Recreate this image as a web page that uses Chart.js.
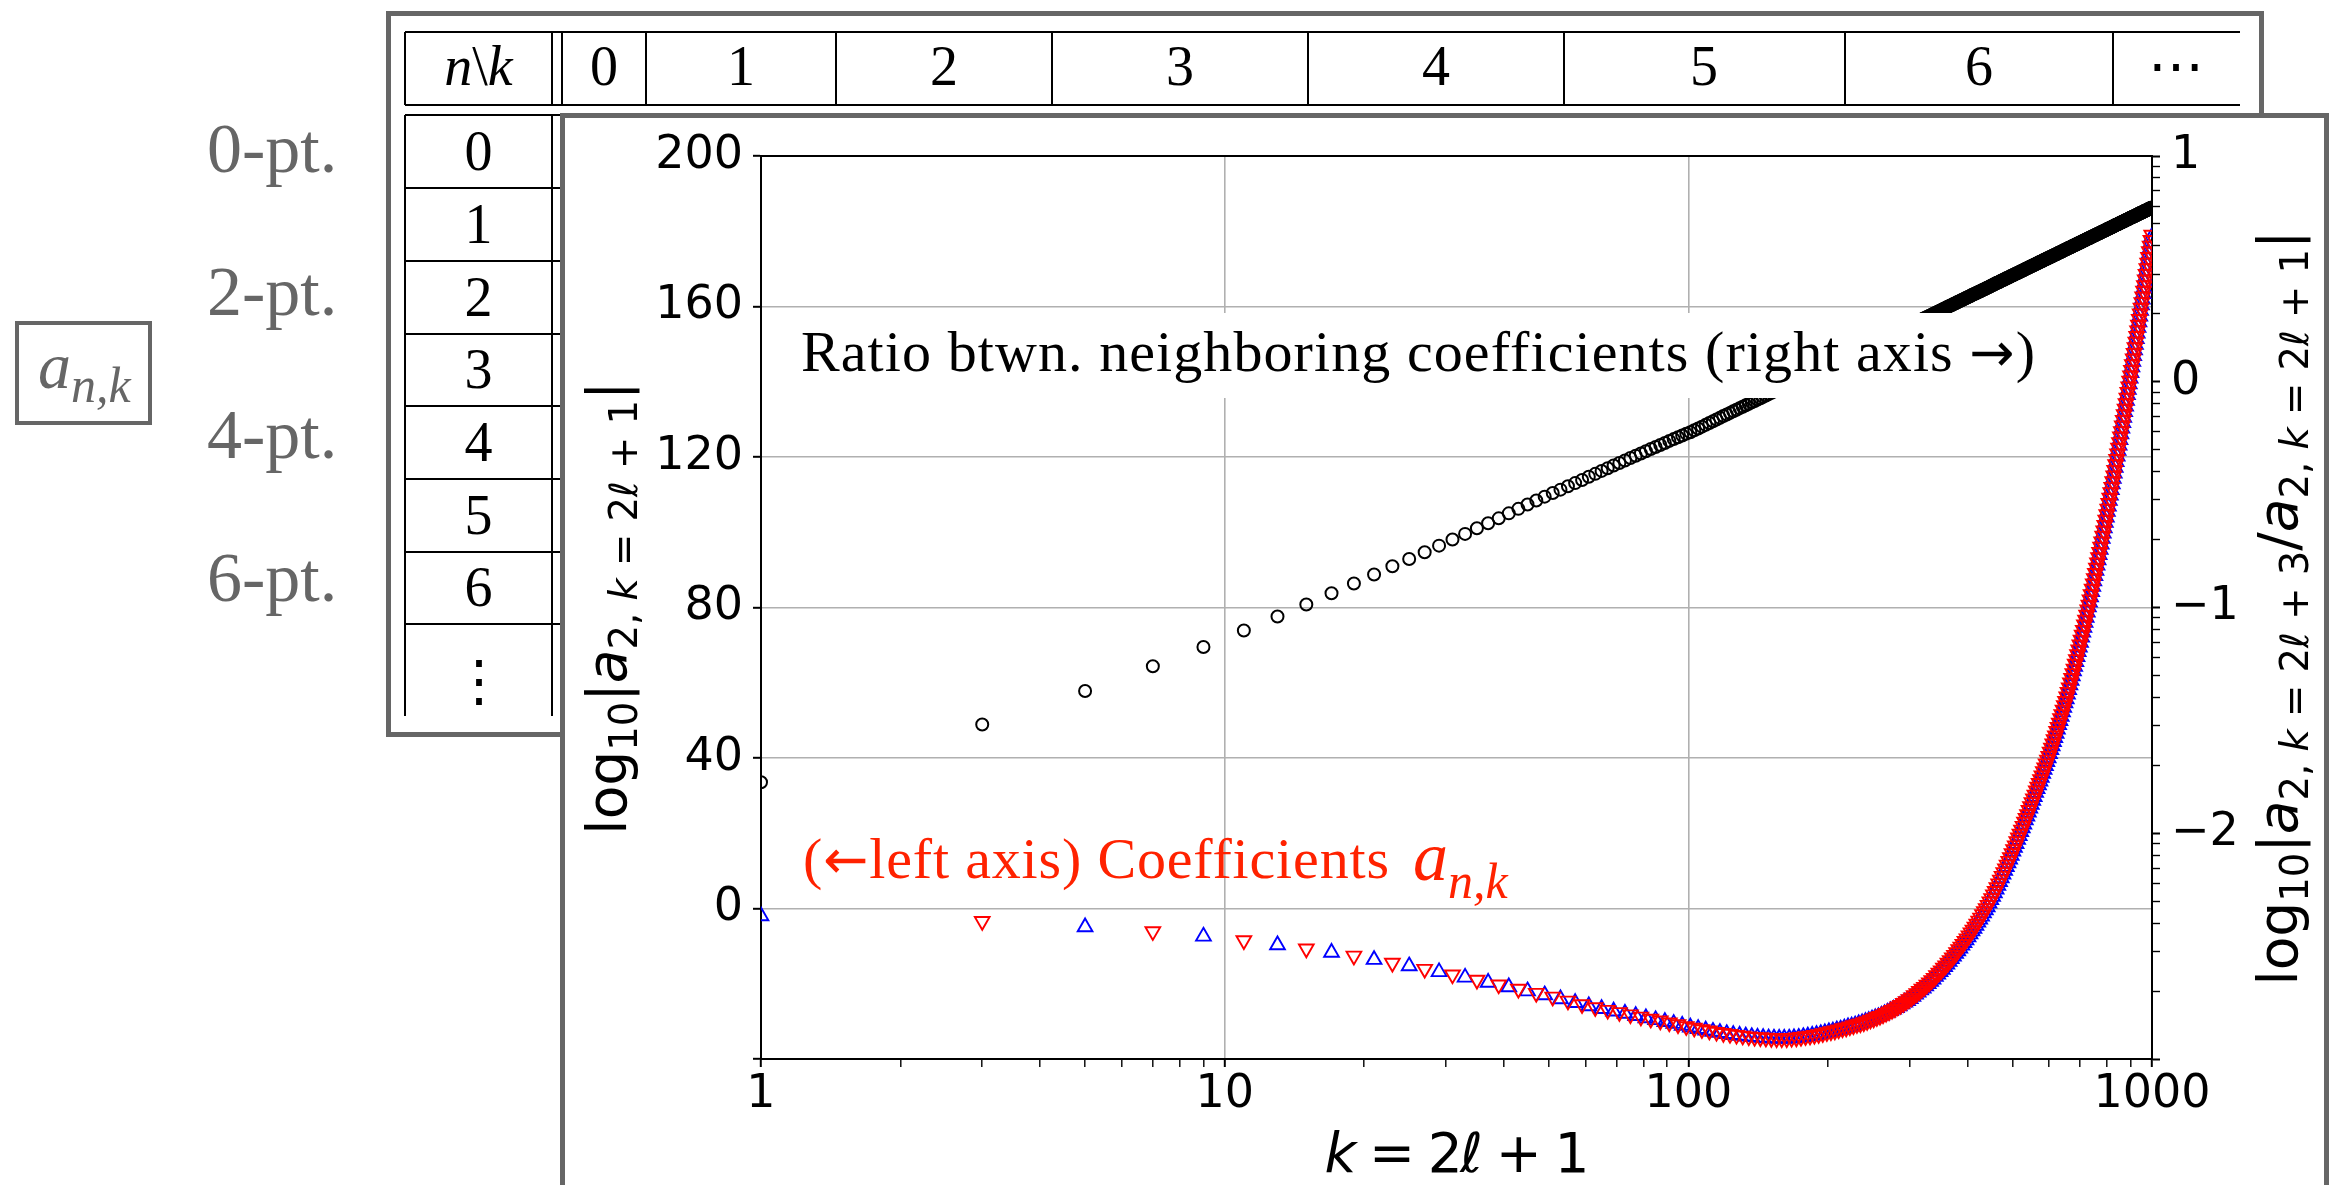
<!DOCTYPE html>
<html>
<head>
<meta charset="utf-8">
<title>a_{n,k} coefficients</title>
<script src="https://cdn.jsdelivr.net/npm/chart.js@4.4.1/dist/chart.umd.min.js"></script>
<style>
  html, body { margin: 0; padding: 0; background: #ffffff; }
  #page { position: relative; width: 2334px; height: 1185px; overflow: hidden; }
  #page > * { position: absolute; left: 0; top: 0; }
  #back { z-index: 1; }
  #chart { z-index: 2; }
  #front { z-index: 3; }
  text { font-family: "Liberation Serif", "DejaVu Serif", serif; }
  text.mpl, tspan.mpl { font-family: "DejaVu Sans", sans-serif; }
</style>
</head>
<body>
<div id="page">
  <svg id="back" width="2334" height="1185">
    <!-- left side labels -->
    <rect x="17" y="323" width="133" height="100" fill="none" stroke="#666" stroke-width="4"/>
    <text x="38" y="388" fill="#666" font-size="66" font-style="italic">a<tspan font-size="50" dy="14">n,k</tspan></text>
    <g fill="#666" font-size="70">
      <text x="207" y="172">0-pt.</text>
      <text x="207" y="315">2-pt.</text>
      <text x="207" y="458">4-pt.</text>
      <text x="207" y="601">6-pt.</text>
    </g>
    <!-- table behind the chart -->
    <rect x="388.5" y="13.5" width="1873" height="721" fill="#fff" stroke="#666" stroke-width="5"/>
    <g stroke="#000" stroke-width="2">
      <line x1="405" y1="32" x2="2240" y2="32"/>
      <line x1="405" y1="105" x2="2240" y2="105"/>
      <line x1="405" y1="32" x2="405" y2="105"/>
      <line x1="552" y1="32" x2="552" y2="105"/>
      <line x1="562" y1="32" x2="562" y2="105"/>
      <line x1="646" y1="32" x2="646" y2="105"/>
      <line x1="836" y1="32" x2="836" y2="105"/>
      <line x1="1052" y1="32" x2="1052" y2="105"/>
      <line x1="1308" y1="32" x2="1308" y2="105"/>
      <line x1="1564" y1="32" x2="1564" y2="105"/>
      <line x1="1845" y1="32" x2="1845" y2="105"/>
      <line x1="2113" y1="32" x2="2113" y2="105"/>
      <line x1="405" y1="115" x2="562" y2="115"/>
      <line x1="405" y1="188" x2="562" y2="188"/>
      <line x1="405" y1="261" x2="562" y2="261"/>
      <line x1="405" y1="334" x2="562" y2="334"/>
      <line x1="405" y1="406" x2="562" y2="406"/>
      <line x1="405" y1="479" x2="562" y2="479"/>
      <line x1="405" y1="552" x2="562" y2="552"/>
      <line x1="405" y1="624" x2="562" y2="624"/>
      <line x1="405" y1="115" x2="405" y2="716"/>
      <line x1="552" y1="115" x2="552" y2="716"/>
    </g>
    <g font-size="56" text-anchor="middle">
      <text x="478.5" y="85"><tspan font-style="italic">n</tspan>\<tspan font-style="italic">k</tspan></text>
      <text x="604" y="85">0</text>
      <text x="741" y="85">1</text>
      <text x="944" y="85">2</text>
      <text x="1180" y="85">3</text>
      <text x="1436" y="85">4</text>
      <text x="1704" y="85">5</text>
      <text x="1979" y="85">6</text>
      <text x="2176" y="85">⋯</text>
      <text x="478.5" y="170">0</text>
      <text x="478.5" y="243">1</text>
      <text x="478.5" y="316">2</text>
      <text x="478.5" y="388">3</text>
      <text x="478.5" y="461">4</text>
      <text x="478.5" y="534">5</text>
      <text x="478.5" y="606">6</text>
      <text x="478.5" y="700">⋮</text>
    </g>
    <!-- white panel holding the chart -->
    <rect x="562.5" y="115.5" width="1764" height="1100" fill="#fff" stroke="#666" stroke-width="5"/>
  </svg>

  <canvas id="chart" width="2334" height="1185"></canvas>

  <svg id="front" width="2334" height="1185">
    <rect x="795" y="313" width="1250" height="85" fill="#fff"/>
    <text x="801" y="371" font-size="58" textLength="1234" lengthAdjust="spacing">Ratio btwn. neighboring coefficients (right axis <tspan class="mpl" font-size="54">→</tspan>)</text>
    <text x="803" y="878" font-size="58" fill="#ff2200" textLength="586" lengthAdjust="spacing">(<tspan class="mpl" font-size="54">←</tspan>left axis) Coefficients</text>
    <text x="1413" y="880" font-size="70" fill="#ff2200" font-style="italic">a<tspan font-size="50" dy="18">n,k</tspan></text>
    <text class="mpl" x="1457" y="1172" font-size="55" text-anchor="middle" textLength="265" lengthAdjust="spacing"><tspan font-style="italic">k</tspan> = 2<tspan font-style="italic">ℓ</tspan> + 1</text>
    <text class="mpl" transform="translate(626 608) rotate(-90)" font-size="55" text-anchor="middle">log<tspan font-size="38.5" dy="11">10</tspan><tspan dy="-11">|</tspan><tspan font-style="italic">a</tspan><tspan font-size="38.5" dy="11">2, <tspan font-style="italic">k</tspan> = 2<tspan font-style="italic">ℓ</tspan> + 1</tspan><tspan dy="-11">|</tspan></text>
    <text class="mpl" transform="translate(2297 608) rotate(-90)" font-size="55" text-anchor="middle">log<tspan font-size="38.5" dy="11">10</tspan><tspan dy="-11">|</tspan><tspan font-style="italic">a</tspan><tspan font-size="38.5" dy="11">2, <tspan font-style="italic">k</tspan> = 2<tspan font-style="italic">ℓ</tspan> + 3</tspan><tspan dy="-11">/</tspan><tspan font-style="italic">a</tspan><tspan font-size="38.5" dy="11">2, <tspan font-style="italic">k</tspan> = 2<tspan font-style="italic">ℓ</tspan> + 1</tspan><tspan dy="-11">|</tspan></text>
  </svg>
</div>

<script>
// k = 2l+1 for l = 0..499
var kOdd = [1, 3, 5, 7, 9, 11, 13, 15, 17, 19,
  21, 23, 25, 27, 29, 31, 33, 35, 37, 39,
  41, 43, 45, 47, 49, 51, 53, 55, 57, 59,
  61, 63, 65, 67, 69, 71, 73, 75, 77, 79,
  81, 83, 85, 87, 89, 91, 93, 95, 97, 99,
  101, 103, 105, 107, 109, 111, 113, 115, 117, 119,
  121, 123, 125, 127, 129, 131, 133, 135, 137, 139,
  141, 143, 145, 147, 149, 151, 153, 155, 157, 159,
  161, 163, 165, 167, 169, 171, 173, 175, 177, 179,
  181, 183, 185, 187, 189, 191, 193, 195, 197, 199,
  201, 203, 205, 207, 209, 211, 213, 215, 217, 219,
  221, 223, 225, 227, 229, 231, 233, 235, 237, 239,
  241, 243, 245, 247, 249, 251, 253, 255, 257, 259,
  261, 263, 265, 267, 269, 271, 273, 275, 277, 279,
  281, 283, 285, 287, 289, 291, 293, 295, 297, 299,
  301, 303, 305, 307, 309, 311, 313, 315, 317, 319,
  321, 323, 325, 327, 329, 331, 333, 335, 337, 339,
  341, 343, 345, 347, 349, 351, 353, 355, 357, 359,
  361, 363, 365, 367, 369, 371, 373, 375, 377, 379,
  381, 383, 385, 387, 389, 391, 393, 395, 397, 399,
  401, 403, 405, 407, 409, 411, 413, 415, 417, 419,
  421, 423, 425, 427, 429, 431, 433, 435, 437, 439,
  441, 443, 445, 447, 449, 451, 453, 455, 457, 459,
  461, 463, 465, 467, 469, 471, 473, 475, 477, 479,
  481, 483, 485, 487, 489, 491, 493, 495, 497, 499,
  501, 503, 505, 507, 509, 511, 513, 515, 517, 519,
  521, 523, 525, 527, 529, 531, 533, 535, 537, 539,
  541, 543, 545, 547, 549, 551, 553, 555, 557, 559,
  561, 563, 565, 567, 569, 571, 573, 575, 577, 579,
  581, 583, 585, 587, 589, 591, 593, 595, 597, 599,
  601, 603, 605, 607, 609, 611, 613, 615, 617, 619,
  621, 623, 625, 627, 629, 631, 633, 635, 637, 639,
  641, 643, 645, 647, 649, 651, 653, 655, 657, 659,
  661, 663, 665, 667, 669, 671, 673, 675, 677, 679,
  681, 683, 685, 687, 689, 691, 693, 695, 697, 699,
  701, 703, 705, 707, 709, 711, 713, 715, 717, 719,
  721, 723, 725, 727, 729, 731, 733, 735, 737, 739,
  741, 743, 745, 747, 749, 751, 753, 755, 757, 759,
  761, 763, 765, 767, 769, 771, 773, 775, 777, 779,
  781, 783, 785, 787, 789, 791, 793, 795, 797, 799,
  801, 803, 805, 807, 809, 811, 813, 815, 817, 819,
  821, 823, 825, 827, 829, 831, 833, 835, 837, 839,
  841, 843, 845, 847, 849, 851, 853, 855, 857, 859,
  861, 863, 865, 867, 869, 871, 873, 875, 877, 879,
  881, 883, 885, 887, 889, 891, 893, 895, 897, 899,
  901, 903, 905, 907, 909, 911, 913, 915, 917, 919,
  921, 923, 925, 927, 929, 931, 933, 935, 937, 939,
  941, 943, 945, 947, 949, 951, 953, 955, 957, 959,
  961, 963, 965, 967, 969, 971, 973, 975, 977, 979,
  981, 983, 985, 987, 989, 991, 993, 995, 997, 999];

// log10|a_{2,k+2}/a_{2,k}|, right axis
var logRatio = [-1.774, -1.518, -1.370, -1.260, -1.175, -1.102, -1.040, -0.987, -0.937, -0.894,
  -0.854, -0.817, -0.785, -0.755, -0.726, -0.699, -0.674, -0.649, -0.627, -0.605,
  -0.583, -0.563, -0.544, -0.526, -0.509, -0.493, -0.478, -0.463, -0.449, -0.435,
  -0.421, -0.408, -0.395, -0.383, -0.371, -0.360, -0.349, -0.338, -0.328, -0.318,
  -0.308, -0.298, -0.289, -0.280, -0.271, -0.262, -0.254, -0.246, -0.238, -0.230,
  -0.224, -0.215, -0.207, -0.199, -0.191, -0.183, -0.175, -0.167, -0.160, -0.152,
  -0.145, -0.138, -0.131, -0.124, -0.117, -0.111, -0.104, -0.098, -0.091, -0.085,
  -0.079, -0.073, -0.067, -0.061, -0.055, -0.049, -0.043, -0.038, -0.032, -0.027,
  -0.021, -0.016, -0.011, -0.005, 0.000, 0.005, 0.010, 0.015, 0.020, 0.025,
  0.030, 0.034, 0.039, 0.044, 0.048, 0.053, 0.058, 0.062, 0.066, 0.071,
  0.075, 0.080, 0.084, 0.088, 0.092, 0.096, 0.100, 0.104, 0.108, 0.112,
  0.116, 0.120, 0.124, 0.128, 0.132, 0.136, 0.139, 0.143, 0.147, 0.150,
  0.154, 0.158, 0.161, 0.165, 0.168, 0.172, 0.175, 0.179, 0.182, 0.185,
  0.189, 0.192, 0.195, 0.199, 0.202, 0.205, 0.208, 0.211, 0.214, 0.218,
  0.221, 0.224, 0.227, 0.230, 0.233, 0.236, 0.239, 0.242, 0.245, 0.248,
  0.251, 0.253, 0.256, 0.259, 0.262, 0.265, 0.268, 0.270, 0.273, 0.276,
  0.279, 0.281, 0.284, 0.287, 0.289, 0.292, 0.294, 0.297, 0.300, 0.302,
  0.305, 0.307, 0.310, 0.312, 0.315, 0.317, 0.320, 0.322, 0.325, 0.327,
  0.330, 0.332, 0.334, 0.337, 0.339, 0.341, 0.344, 0.346, 0.348, 0.351,
  0.353, 0.355, 0.357, 0.360, 0.362, 0.364, 0.366, 0.369, 0.371, 0.373,
  0.375, 0.377, 0.379, 0.382, 0.384, 0.386, 0.388, 0.390, 0.392, 0.394,
  0.396, 0.398, 0.400, 0.402, 0.404, 0.406, 0.408, 0.410, 0.412, 0.414,
  0.416, 0.418, 0.420, 0.422, 0.424, 0.426, 0.428, 0.430, 0.432, 0.434,
  0.436, 0.438, 0.439, 0.441, 0.443, 0.445, 0.447, 0.449, 0.451, 0.452,
  0.454, 0.456, 0.458, 0.460, 0.461, 0.463, 0.465, 0.467, 0.468, 0.470,
  0.472, 0.474, 0.475, 0.477, 0.479, 0.480, 0.482, 0.484, 0.485, 0.487,
  0.489, 0.490, 0.492, 0.494, 0.495, 0.497, 0.499, 0.500, 0.502, 0.504,
  0.505, 0.507, 0.508, 0.510, 0.512, 0.513, 0.515, 0.516, 0.518, 0.519,
  0.521, 0.523, 0.524, 0.526, 0.527, 0.529, 0.530, 0.532, 0.533, 0.535,
  0.536, 0.538, 0.539, 0.541, 0.542, 0.544, 0.545, 0.547, 0.548, 0.549,
  0.551, 0.552, 0.554, 0.555, 0.557, 0.558, 0.559, 0.561, 0.562, 0.564,
  0.565, 0.566, 0.568, 0.569, 0.571, 0.572, 0.573, 0.575, 0.576, 0.577,
  0.579, 0.580, 0.582, 0.583, 0.584, 0.586, 0.587, 0.588, 0.590, 0.591,
  0.592, 0.594, 0.595, 0.596, 0.597, 0.599, 0.600, 0.601, 0.603, 0.604,
  0.605, 0.606, 0.608, 0.609, 0.610, 0.611, 0.613, 0.614, 0.615, 0.616,
  0.618, 0.619, 0.620, 0.621, 0.623, 0.624, 0.625, 0.626, 0.628, 0.629,
  0.630, 0.631, 0.632, 0.634, 0.635, 0.636, 0.637, 0.638, 0.639, 0.641,
  0.642, 0.643, 0.644, 0.645, 0.646, 0.648, 0.649, 0.650, 0.651, 0.652,
  0.653, 0.655, 0.656, 0.657, 0.658, 0.659, 0.660, 0.661, 0.662, 0.664,
  0.665, 0.666, 0.667, 0.668, 0.669, 0.670, 0.671, 0.672, 0.673, 0.675,
  0.676, 0.677, 0.678, 0.679, 0.680, 0.681, 0.682, 0.683, 0.684, 0.685,
  0.686, 0.687, 0.688, 0.690, 0.691, 0.692, 0.693, 0.694, 0.695, 0.696,
  0.697, 0.698, 0.699, 0.700, 0.701, 0.702, 0.703, 0.704, 0.705, 0.706,
  0.707, 0.708, 0.709, 0.710, 0.711, 0.712, 0.713, 0.714, 0.715, 0.716,
  0.717, 0.718, 0.719, 0.720, 0.721, 0.722, 0.723, 0.724, 0.725, 0.726,
  0.727, 0.728, 0.729, 0.730, 0.731, 0.732, 0.732, 0.733, 0.734, 0.735,
  0.736, 0.737, 0.738, 0.739, 0.740, 0.741, 0.742, 0.743, 0.744, 0.745,
  0.746, 0.747, 0.747, 0.748, 0.749, 0.750, 0.751, 0.752, 0.753, 0.754,
  0.755, 0.756, 0.757, 0.757, 0.758, 0.759, 0.760, 0.761, 0.762, 0.763,
  0.764, 0.765, 0.765, 0.766, 0.767, 0.768, 0.769, 0.770, 0.771, 0.772];

// log10|a_{2,k}|, left axis; sign alternates: k = 1 mod 4 positive, k = 3 mod 4 negative
var logCoef = [-2.0, -3.4, -4.9, -6.1, -7.4, -8.5, -9.7, -10.7, -11.7, -12.6,
  -13.6, -14.5, -15.3, -16.1, -16.85, -17.6, -18.3, -19.0, -19.65, -20.25,
  -20.85, -21.4, -21.95, -22.5, -23.0, -23.5, -24.05, -24.55, -25.05, -25.5,
  -25.9, -26.3, -26.65, -27.0, -27.3, -27.6, -27.9, -28.2, -28.5, -28.8,
  -29.1, -29.35, -29.6, -29.85, -30.1, -30.35, -30.6, -30.85, -31.1, -31.35,
  -31.55, -31.75, -31.95, -32.15, -32.35, -32.5, -32.7, -32.85, -33.0, -33.15,
  -33.3, -33.4, -33.55, -33.65, -33.75, -33.85, -33.95, -34.05, -34.1, -34.2,
  -34.25, -34.3, -34.35, -34.4, -34.45, -34.5, -34.5, -34.55, -34.55, -34.55,
  -34.55, -34.55, -34.5, -34.45, -34.4, -34.35, -34.3, -34.2, -34.1, -34.0,
  -33.95, -33.85, -33.75, -33.65, -33.55, -33.45, -33.3, -33.2, -33.05, -32.95,
  -32.8, -32.7, -32.6, -32.5, -32.3, -32.2, -32.1, -31.9, -31.8, -31.7,
  -31.5, -31.4, -31.3, -31.1, -31.0, -30.8, -30.7, -30.6, -30.4, -30.3,
  -30.1, -30.0, -29.8, -29.6, -29.4, -29.3, -29.1, -28.9, -28.8, -28.6,
  -28.4, -28.2, -28.0, -27.8, -27.6, -27.4, -27.2, -27.0, -26.8, -26.6,
  -26.4, -26.1, -25.9, -25.7, -25.4, -25.2, -24.9, -24.7, -24.5, -24.2,
  -24.0, -23.7, -23.4, -23.1, -22.8, -22.6, -22.3, -22.0, -21.7, -21.4,
  -21.2, -20.9, -20.6, -20.3, -20.0, -19.7, -19.4, -19.1, -18.8, -18.5,
  -18.1, -17.8, -17.5, -17.1, -16.8, -16.5, -16.2, -15.8, -15.5, -15.2,
  -14.8, -14.5, -14.1, -13.8, -13.4, -13.1, -12.7, -12.4, -12.0, -11.7,
  -11.3, -10.9, -10.6, -10.2, -9.8, -9.5, -9.1, -8.7, -8.4, -8.0,
  -7.6, -7.2, -6.8, -6.4, -6.0, -5.7, -5.3, -4.9, -4.5, -4.1,
  -3.7, -3.3, -2.9, -2.5, -2.1, -1.6, -1.2, -0.8, -0.4, 0.0,
  0.4, 0.9, 1.4, 1.8, 2.3, 2.7, 3.2, 3.7, 4.1, 4.6,
  5.1, 5.6, 6.1, 6.6, 7.1, 7.6, 8.1, 8.6, 9.1, 9.6,
  10.1, 10.6, 11.1, 11.6, 12.1, 12.6, 13.1, 13.6, 14.1, 14.6,
  15.2, 15.7, 16.2, 16.7, 17.2, 17.8, 18.3, 18.8, 19.3, 19.8,
  20.4, 20.9, 21.4, 21.9, 22.4, 23.0, 23.5, 24.0, 24.5, 25.0,
  25.6, 26.1, 26.6, 27.1, 27.6, 28.2, 28.7, 29.2, 29.7, 30.2,
  30.8, 31.3, 31.8, 32.3, 32.8, 33.3, 33.8, 34.3, 34.8, 35.3,
  35.9, 36.4, 36.9, 37.4, 37.9, 38.5, 39.0, 39.5, 40.0, 40.5,
  41.1, 41.6, 42.2, 42.7, 43.2, 43.8, 44.3, 44.9, 45.4, 45.9,
  46.5, 47.1, 47.6, 48.2, 48.8, 49.3, 49.9, 50.5, 51.0, 51.6,
  52.2, 52.8, 53.4, 54.0, 54.6, 55.1, 55.7, 56.3, 56.9, 57.5,
  58.1, 58.7, 59.4, 60.0, 60.6, 61.2, 61.8, 62.5, 63.1, 63.7,
  64.3, 65.0, 65.6, 66.2, 66.9, 67.5, 68.2, 68.8, 69.4, 70.1,
  70.7, 71.4, 72.1, 72.7, 73.4, 74.0, 74.7, 75.4, 76.0, 76.7,
  77.3, 78.0, 78.7, 79.4, 80.1, 80.7, 81.4, 82.1, 82.8, 83.5,
  84.2, 84.9, 85.6, 86.3, 87.0, 87.7, 88.4, 89.1, 89.8, 90.5,
  91.2, 91.9, 92.6, 93.3, 94.0, 94.7, 95.4, 96.1, 96.8, 97.5,
  98.3, 99.0, 99.7, 100.4, 101.1, 101.9, 102.6, 103.3, 104.0, 104.7,
  105.5, 106.2, 106.9, 107.7, 108.4, 109.1, 109.8, 110.6, 111.3, 112.0,
  112.8, 113.5, 114.3, 115.0, 115.7, 116.5, 117.2, 118.0, 118.7, 119.4,
  120.2, 120.9, 121.7, 122.4, 123.1, 123.9, 124.6, 125.4, 126.1, 126.8,
  127.6, 128.3, 129.1, 129.8, 130.5, 131.3, 132.0, 132.8, 133.5, 134.2,
  135.0, 135.7, 136.5, 137.2, 137.9, 138.7, 139.4, 140.2, 140.9, 141.6,
  142.4, 143.1, 143.9, 144.6, 145.4, 146.1, 146.9, 147.6, 148.4, 149.1,
  149.9, 150.6, 151.4, 152.1, 152.9, 153.6, 154.4, 155.1, 155.9, 156.6,
  157.4, 158.1, 158.9, 159.6, 160.4, 161.1, 161.9, 162.6, 163.4, 164.1,
  164.9, 165.6, 166.4, 167.1, 167.9, 168.6, 169.4, 170.1, 170.9, 171.6,
  172.4, 173.1, 173.9, 174.6, 175.3, 176.1, 176.8, 177.6, 178.3, 179.0];

// axes
var xDecades = [1, 10, 100, 1000];
var yLeftTicks = [-40, 0, 40, 80, 120, 160, 200];
var yRightDecades = [-3, -2, -1, 0, 1];

var gridColor = '#b0b0b0';
var tickFont = { family: 'DejaVu Sans', size: 46 };

if (kOdd.length !== logRatio.length || kOdd.length !== logCoef.length) {
  console.error('length mismatch', kOdd.length, logRatio.length, logCoef.length);
}

function toPoints(ks, vs, keep) {
  var pts = [];
  for (var i = 0; i < ks.length; i++) {
    if (keep(ks[i])) pts.push({ x: ks[i], y: vs[i] });
  }
  return pts;
}

// log-axis tick positions: decades plus 2..9 in between
var xTicks = [];
for (var d = 0; d < xDecades.length - 1; d++) {
  for (var m = 1; m < 10; m++) xTicks.push(xDecades[d] * m);
}
xTicks.push(xDecades[xDecades.length - 1]);

var yRightTicks = [];
for (var d = 0; d < yRightDecades.length - 1; d++) {
  for (var m = 1; m < 10; m++) yRightTicks.push(yRightDecades[d] + Math.log10(m));
}
yRightTicks.push(yRightDecades[yRightDecades.length - 1]);

function isWhole(v) {
  return Math.abs(v - Math.round(v)) < 1e-9;
}

function minusSign(v) {
  return String(v).replace('-', '\u2212');
}

var topSpine = {
  id: 'topSpine',
  afterDraw: function(chart) {
    var a = chart.chartArea;
    var c = chart.ctx;
    c.save();
    c.strokeStyle = '#000';
    c.lineWidth = 2;
    c.beginPath();
    c.moveTo(a.left - 1, a.top);
    c.lineTo(a.right + 1, a.top);
    c.stroke();
    c.restore();
  }
};

new Chart(document.getElementById('chart'), {
  type: 'scatter',
  data: {
    datasets: [
      {
        label: 'ratio',
        data: toPoints(kOdd, logRatio, function() { return true; }),
        yAxisID: 'y2',
        pointStyle: 'circle',
        pointRadius: 6,
        pointBorderWidth: 2,
        pointBorderColor: '#000000',
        pointBackgroundColor: 'rgba(0,0,0,0)',
        clip: 0,
        order: 3
      },
      {
        label: 'a > 0',
        data: toPoints(kOdd, logCoef, function(k) { return k % 4 === 1; }),
        yAxisID: 'y',
        pointStyle: 'triangle',
        pointRadius: 8.5,
        pointBorderWidth: 1.9,
        pointBorderColor: '#0000ff',
        pointBackgroundColor: 'rgba(0,0,0,0)',
        clip: 0,
        order: 2
      },
      {
        label: 'a < 0',
        data: toPoints(kOdd, logCoef, function(k) { return k % 4 === 3; }),
        yAxisID: 'y',
        pointStyle: 'triangle',
        pointRotation: 180,
        pointRadius: 8.5,
        pointBorderWidth: 1.9,
        pointBorderColor: '#ff0000',
        pointBackgroundColor: 'rgba(0,0,0,0)',
        clip: 0,
        order: 1
      }
    ]
  },
  options: {
    responsive: false,
    animation: false,
    devicePixelRatio: 1,
    events: [],
    layout: { padding: { left: 0, right: 0, top: 156, bottom: 0 } },
    plugins: { legend: { display: false }, tooltip: { enabled: false } },
    scales: {
      x: {
        type: 'logarithmic',
        min: 1,
        max: 1000,
        afterBuildTicks: function(s) {
          s.ticks = xTicks.map(function(v) { return { value: v }; });
        },
        afterFit: function(s) { s.height = 126; },
        ticks: {
          autoSkip: false,
          maxRotation: 0,
          padding: 0,
          color: '#000',
          font: tickFont,
          callback: function(v) { return xDecades.indexOf(v) > -1 ? String(v) : ''; }
        },
        grid: {
          color: function(c) {
            var v = c.tick ? c.tick.value : 0;
            return (v === 10 || v === 100) ? gridColor : 'rgba(0,0,0,0)';
          },
          lineWidth: 1.6,
          tickLength: 8,
          tickColor: '#000',
          tickWidth: function(c) { return (c.tick && xDecades.indexOf(c.tick.value) > -1) ? 2 : 1.4; }
        },
        border: { color: '#000', width: 2 }
      },
      y: {
        type: 'linear',
        position: 'left',
        min: -40,
        max: 200,
        afterBuildTicks: function(s) {
          s.ticks = yLeftTicks.map(function(v) { return { value: v }; });
        },
        afterFit: function(s) { s.width = 761; },
        ticks: {
          autoSkip: false,
          padding: 10,
          color: '#000',
          font: tickFont,
          callback: function(v) { return v === -40 ? '' : minusSign(v); }
        },
        grid: {
          color: function(c) {
            var v = c.tick ? c.tick.value : 0;
            return (v > -40 && v < 200) ? gridColor : 'rgba(0,0,0,0)';
          },
          lineWidth: 1.6,
          tickLength: 8,
          tickColor: '#000',
          tickWidth: 2
        },
        border: { color: '#000', width: 2 }
      },
      y2: {
        type: 'linear',
        position: 'right',
        min: -3,
        max: 1,
        afterBuildTicks: function(s) {
          s.ticks = yRightTicks.map(function(v) { return { value: v }; });
        },
        afterFit: function(s) { s.width = 182; },
        ticks: {
          autoSkip: false,
          padding: 11,
          color: '#000',
          font: tickFont,
          callback: function(v) {
            if (!isWhole(v) || Math.round(v) === -3) return '';
            return minusSign(Math.round(v));
          }
        },
        grid: {
          drawOnChartArea: false,
          tickLength: 8,
          tickColor: '#000',
          tickWidth: function(c) { return (c.tick && isWhole(c.tick.value)) ? 2 : 1.4; }
        },
        border: { color: '#000', width: 2 }
      }
    }
  },
  plugins: [topSpine]
});
</script>
</body>
</html>
